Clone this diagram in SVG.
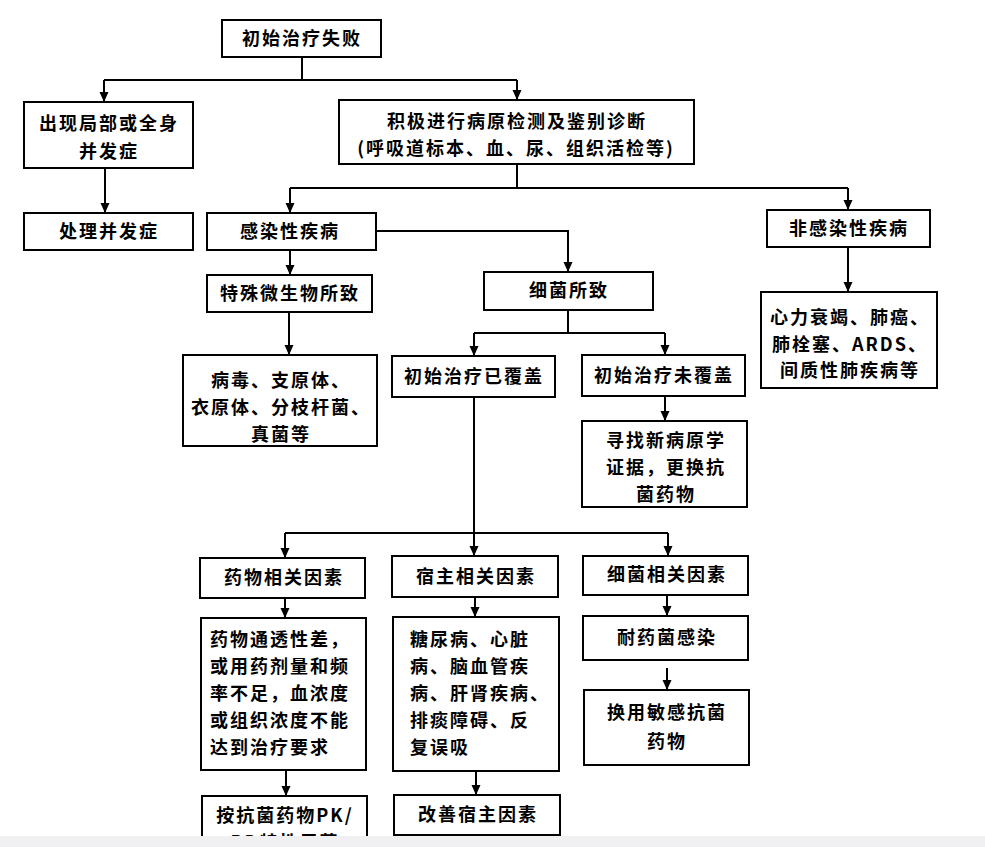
<svg xmlns="http://www.w3.org/2000/svg" width="985" height="847" viewBox="0 0 985 847">
<defs>
<style>
rect.b{fill:#fff;stroke:#000;stroke-width:2}
text{font-family:"Noto Sans CJK SC","Noto Sans CJK TC",sans-serif;font-size:18px;font-weight:bold;fill:#000;letter-spacing:2px}
text.c{text-anchor:middle}
.ln{fill:none;stroke:#000;stroke-width:2}
</style>
<marker id="ah" markerUnits="userSpaceOnUse" markerWidth="10" markerHeight="10" refX="10" refY="4.5" orient="auto" viewBox="0 0 10 9">
<path d="M0,0 L10,4.5 L0,9 z" fill="#000"/>
</marker>
</defs>
<rect width="985" height="847" fill="#fff"/>
<g id="connectors" class="ln">
<path d="M302,57 V80 M104,80 H517"/>
<path d="M104,80 V102" marker-end="url(#ah)"/>
<path d="M517,80 V100" marker-end="url(#ah)"/>
<path d="M105,168 V213" marker-end="url(#ah)"/>
<path d="M517,164 V188 M290,188 H848"/>
<path d="M290,188 V213" marker-end="url(#ah)"/>
<path d="M848,188 V210" marker-end="url(#ah)"/>
<path d="M376,231 H568 V272" marker-end="url(#ah)"/>
<path d="M290,250 V275" marker-end="url(#ah)"/>
<path d="M848,247 V292" marker-end="url(#ah)"/>
<path d="M289,312 V355" marker-end="url(#ah)"/>
<path d="M568,310 V333 M474,333 H665"/>
<path d="M474,333 V356" marker-end="url(#ah)"/>
<path d="M665,333 V355" marker-end="url(#ah)"/>
<path d="M665,396 V421" marker-end="url(#ah)"/>
<path d="M474,397 V533 M285,533 H668"/>
<path d="M285,533 V558" marker-end="url(#ah)"/>
<path d="M474,533 V556" marker-end="url(#ah)"/>
<path d="M668,533 V556" marker-end="url(#ah)"/>
<path d="M285,598 V618" marker-end="url(#ah)"/>
<path d="M475,597 V617" marker-end="url(#ah)"/>
<path d="M667,595 V616" marker-end="url(#ah)"/>
<path d="M667,668 V690" marker-end="url(#ah)"/>
<path d="M286,770 V796" marker-end="url(#ah)"/>
<path d="M476,771 V795" marker-end="url(#ah)"/>
</g>
<g id="n1"><rect class="b" x="222" y="20" width="159" height="37"/><text class="c" x="302" y="45">初始治疗失败</text></g>
<g id="n2"><rect class="b" x="24" y="102" width="169" height="66"/><text class="c" x="109" y="130">出现局部或全身</text><text class="c" x="109" y="158">并发症</text></g>
<g id="n3"><rect class="b" x="24" y="213" width="169" height="37"/><text class="c" x="109" y="238">处理并发症</text></g>
<g id="n4"><rect class="b" x="339" y="100" width="355" height="64"/><text class="c" x="517" y="128">积极进行病原检测及鉴别诊断</text><text class="c" x="516" y="155">(呼吸道标本、血、尿、组织活检等)</text></g>
<g id="n5"><rect class="b" x="207" y="213" width="169" height="37"/><text class="c" x="290" y="238">感染性疾病</text></g>
<g id="n6"><rect class="b" x="767" y="210" width="163" height="37"/><text class="c" x="849" y="235">非感染性疾病</text></g>
<g id="n7"><rect class="b" x="207" y="275" width="165" height="37"/><text class="c" x="290" y="300">特殊微生物所致</text></g>
<g id="n8"><rect class="b" x="484" y="272" width="169" height="38"/><text class="c" x="569" y="297">细菌所致</text></g>
<g id="n9"><rect class="b" x="183" y="355" width="194" height="91"/><text class="c" x="281" y="387">病毒、支原体、</text><text class="c" x="281" y="414">衣原体、分枝杆菌、</text><text class="c" x="281" y="441">真菌等</text></g>
<g id="n10"><rect class="b" x="392" y="356" width="163" height="41"/><text class="c" x="474" y="383">初始治疗已覆盖</text></g>
<g id="n11"><rect class="b" x="582" y="355" width="163" height="41"/><text class="c" x="664" y="382">初始治疗未覆盖</text></g>
<g id="n12"><rect class="b" x="761" y="292" width="176" height="96"/><text class="c" x="850" y="324">心力衰竭、肺癌、</text><text class="c" x="850" y="351">肺栓塞、ARDS、</text><text class="c" x="850" y="377">间质性肺疾病等</text></g>
<g id="n13"><rect class="b" x="582" y="421" width="165" height="86"/><text class="c" x="666" y="447">寻找新病原学</text><text class="c" x="666" y="474">证据，更换抗</text><text class="c" x="666" y="501">菌药物</text></g>
<g id="n14"><rect class="b" x="200" y="558" width="165" height="40"/><text class="c" x="284" y="584">药物相关因素</text></g>
<g id="n15"><rect class="b" x="392" y="556" width="166" height="41"/><text class="c" x="476" y="583">宿主相关因素</text></g>
<g id="n16"><rect class="b" x="583" y="556" width="165" height="39"/><text class="c" x="667" y="581">细菌相关因素</text></g>
<g id="n17"><rect class="b" x="201" y="618" width="165" height="152"/><text x="210" y="646">药物通透性差，</text><text x="210" y="673">或用药剂量和频</text><text x="210" y="700">率不足，血浓度</text><text x="210" y="727">或组织浓度不能</text><text x="210" y="754">达到治疗要求</text></g>
<g id="n18"><rect class="b" x="393" y="617" width="166" height="154"/><text x="410" y="646">糖尿病、心脏</text><text x="410" y="673">病、脑血管疾</text><text x="410" y="700">病、肝肾疾病、</text><text x="410" y="727">排痰障碍、反</text><text x="410" y="754">复误吸</text></g>
<g id="n19"><rect class="b" x="583" y="616" width="165" height="44"/><text class="c" x="667" y="644">耐药菌感染</text></g>
<g id="n20"><rect class="b" x="584" y="690" width="165" height="75"/><text class="c" x="667" y="719">换用敏感抗菌</text><text class="c" x="667" y="748">药物</text></g>
<g id="n21"><rect class="b" x="202" y="796" width="165" height="80"/><text class="c" x="285" y="822">按抗菌药物PK/</text><text class="c" x="285" y="849">PD特性用药</text></g>
<g id="n22"><rect class="b" x="394" y="795" width="166" height="40"/><text class="c" x="478" y="821">改善宿主因素</text></g>
<rect x="0" y="836" width="985" height="11" fill="#f0f0f2"/>
</svg>
